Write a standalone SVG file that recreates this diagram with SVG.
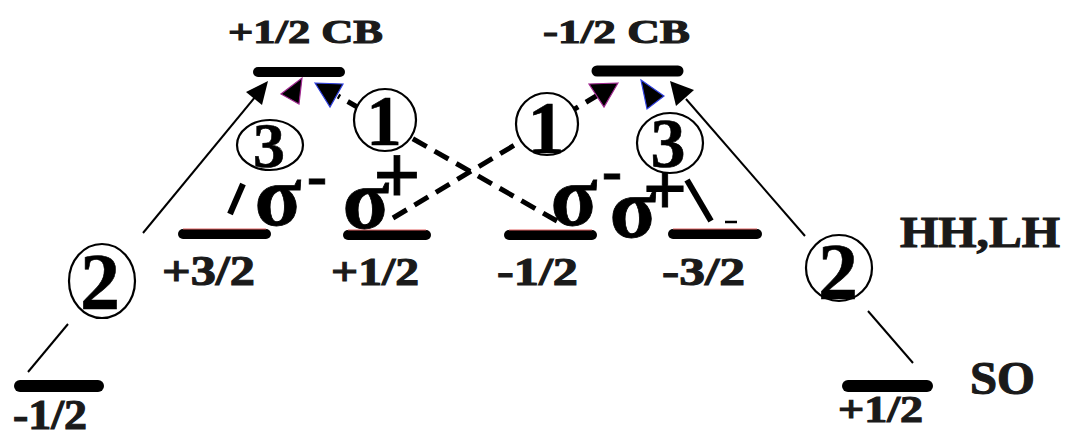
<svg xmlns="http://www.w3.org/2000/svg" width="1069" height="435" viewBox="0 0 1069 435">
<style>
.lbl{font-family:"Liberation Serif",serif;font-weight:bold;fill:#1a1a1a;stroke:#1a1a1a;stroke-width:1.1;}
.sig{font-family:"Liberation Serif",serif;font-weight:bold;fill:#000;stroke:#000;stroke-width:0.8;text-anchor:middle;}
.num{font-family:"Liberation Serif",serif;font-weight:bold;fill:#000;stroke:#000;stroke-width:0.6;text-anchor:middle;}
.ring{fill:#fff;stroke:#000;stroke-width:2.2;}
.bar{stroke:#000;stroke-linecap:round;}
.tint{stroke:#e06060;stroke-width:1;}
.solid{stroke:#000;stroke-width:2;fill:none;}
.dash{stroke:#000;stroke-width:5;fill:none;stroke-dasharray:16 9;}
.thick{stroke:#000;stroke-width:6;fill:none;}
</style>
<rect width="1069" height="435" fill="#fff"/>

<g id="levels">
  <g id="cb-plus"><line class="bar" x1="258" y1="72" x2="340" y2="72" stroke-width="10"/></g>
  <g id="cb-minus"><line class="bar" x1="597" y1="71" x2="678" y2="71" stroke-width="11"/></g>
  <g id="hh-p32"><line class="bar" x1="183" y1="234" x2="266" y2="234" stroke-width="10"/><line class="tint" x1="183" y1="229" x2="266" y2="229"/></g>
  <g id="lh-p12"><line class="bar" x1="348" y1="235" x2="426" y2="235" stroke-width="10"/><line class="tint" x1="348" y1="230" x2="426" y2="230"/></g>
  <g id="lh-m12"><line class="bar" x1="509" y1="235" x2="592" y2="235" stroke-width="10"/><line class="tint" x1="509" y1="230" x2="592" y2="230"/></g>
  <g id="hh-m32"><line class="bar" x1="673" y1="234" x2="757" y2="234" stroke-width="10"/><line class="tint" x1="673" y1="229" x2="757" y2="229"/></g>
  <g id="so-m12"><line class="bar" x1="20" y1="386" x2="98" y2="386" stroke-width="12"/></g>
  <g id="so-p12"><line class="bar" x1="848" y1="386" x2="927" y2="386" stroke-width="12"/></g>
</g>

<g id="labels">
  <text class="lbl" x="228" y="43" font-size="34" textLength="155" lengthAdjust="spacingAndGlyphs">+1/2 CB</text>
  <text class="lbl" x="543" y="43" font-size="34" textLength="147" lengthAdjust="spacingAndGlyphs">-1/2 CB</text>
  <text class="lbl" x="162" y="285" font-size="42" textLength="93" lengthAdjust="spacingAndGlyphs">+3/2</text>
  <text class="lbl" x="331" y="285" font-size="41" textLength="88" lengthAdjust="spacingAndGlyphs">+1/2</text>
  <text class="lbl" x="497" y="285" font-size="41" textLength="81" lengthAdjust="spacingAndGlyphs">-1/2</text>
  <text class="lbl" x="662" y="285" font-size="41" textLength="83" lengthAdjust="spacingAndGlyphs">-3/2</text>
  <text class="lbl" x="13" y="429" font-size="42" textLength="74" lengthAdjust="spacingAndGlyphs">-1/2</text>
  <text class="lbl" x="838" y="422" font-size="37" textLength="85" lengthAdjust="spacingAndGlyphs">+1/2</text>
  <text class="lbl" x="900" y="247" font-size="45" textLength="160" lengthAdjust="spacingAndGlyphs">HH,LH</text>
  <text class="lbl" x="970" y="394" font-size="46" textLength="65" lengthAdjust="spacingAndGlyphs">SO</text>
</g>

<g id="connectors">
  <line class="solid" x1="28" y1="372" x2="68" y2="324"/>
  <line class="solid" x1="143" y1="233" x2="256" y2="96"/>
  <polygon points="268,81 262,105 246,92" fill="#000"/>
  <line class="solid" x1="913" y1="363" x2="868" y2="311"/>
  <line class="solid" x1="805" y1="236" x2="686" y2="99"/>
  <polygon points="670,81 694,90 676,106" fill="#000"/>
  <line class="dash" x1="557" y1="221" x2="338" y2="96"/>
  <polygon points="315,83 343,84 330,107" fill="#000" stroke="#3040e0" stroke-width="1.2"/>
  <line class="dash" x1="393" y1="218" x2="598" y2="95"/>
  <polygon points="618,83 589,84 604,107" fill="#000" stroke="#a02890" stroke-width="1.2"/>
  <line class="thick" x1="230" y1="214" x2="243" y2="184"/>
  <polygon points="302,78 299,104 281,94" fill="#000" stroke="#a02890" stroke-width="1.2"/>
  <line class="thick" x1="687" y1="180" x2="711" y2="221"/>
  <line stroke="#000" stroke-width="2.5" x1="725" y1="222" x2="737" y2="222"/>
  <polygon points="641,80 664,96 647,109" fill="#000" stroke="#3040e0" stroke-width="1.2"/>
</g>

<g id="pol">
  <text class="sig" x="278" y="225" font-size="86">σ</text>
  <text class="sig" x="317" y="195" font-size="60">-</text>
  <text class="sig" x="366" y="228" font-size="86">σ</text>
  <text class="sig" x="397" y="203" font-size="84">+</text>
  <text class="sig" x="574" y="225" font-size="86">σ</text>
  <text class="sig" x="612" y="190" font-size="60">-</text>
  <text class="sig" x="633" y="237" font-size="86">σ</text>
  <text class="sig" x="665" y="215" font-size="78">+</text>
</g>

<g id="c3-left"><ellipse class="ring" cx="270" cy="145" rx="33" ry="25"/><text class="num" x="269" y="167" font-size="64">3</text></g>
<g id="c1-left"><ellipse class="ring" cx="385" cy="120" rx="31" ry="31"/><text class="num" x="384" y="145" font-size="71">1</text></g>
<g id="c1-right"><ellipse class="ring" cx="547" cy="124" rx="31" ry="31"/><text class="num" x="546" y="153" font-size="74">1</text></g>
<g id="c3-right"><ellipse class="ring" cx="670" cy="143" rx="33" ry="30"/><text class="num" x="668" y="167" font-size="70">3</text></g>
<g id="c2-left"><ellipse class="ring" cx="102" cy="281" rx="33" ry="37"/><text class="num" x="100" y="309" font-size="80">2</text></g>
<g id="c2-right"><ellipse class="ring" cx="839" cy="268" rx="33" ry="33"/><text class="num" x="838" y="299" font-size="80">2</text></g>
</svg>
